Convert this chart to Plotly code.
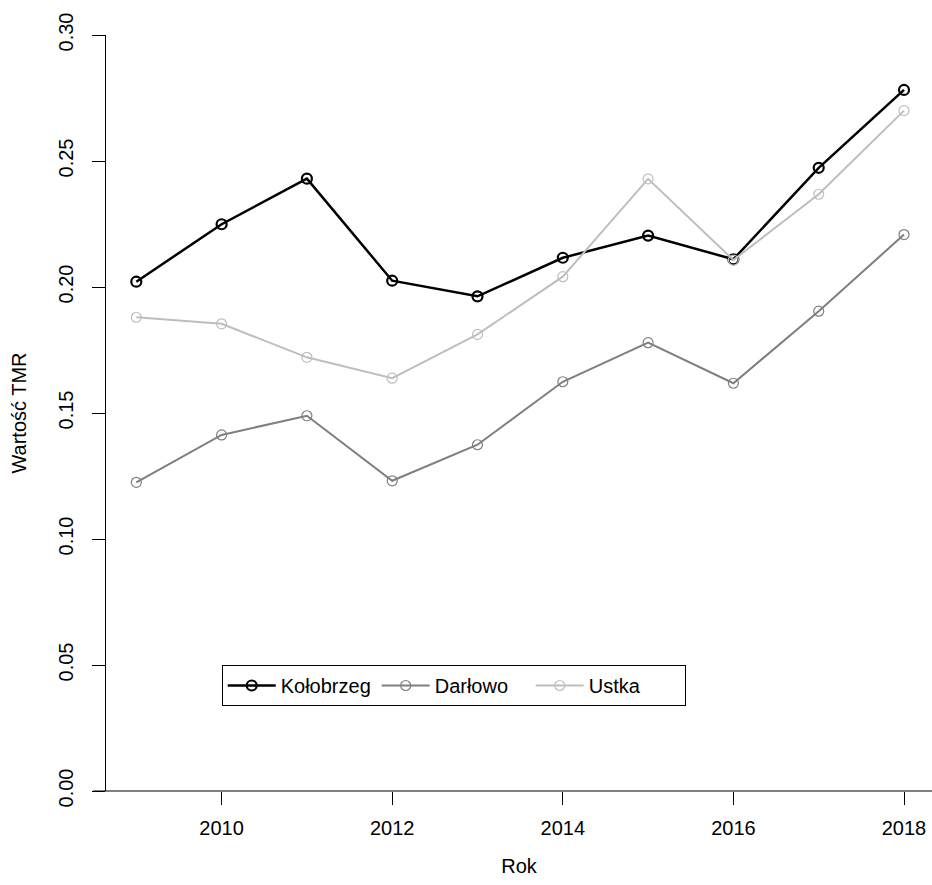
import plotly.graph_objects as go

years = [2009, 2010, 2011, 2012, 2013, 2014, 2015, 2016, 2017, 2018]
kolobrzeg = [0.2021, 0.2249, 0.2430, 0.2025, 0.1963, 0.2116, 0.2204, 0.2110, 0.2473, 0.2782]
darlowo = [0.1225, 0.1413, 0.1489, 0.1231, 0.1374, 0.1624, 0.1779, 0.1618, 0.1904, 0.2208]
ustka = [0.1880, 0.1854, 0.1721, 0.1638, 0.1812, 0.2041, 0.2429, 0.2107, 0.2368, 0.2700]

x_ticks = [2010, 2012, 2014, 2016, 2018]
y_ticks = [0.00, 0.05, 0.10, 0.15, 0.20, 0.25, 0.30]
y_ticklabels = ["0.00", "0.05", "0.10", "0.15", "0.20", "0.25", "0.30"]

FONT = "Liberation Sans, Arial, sans-serif"
FS = 20

series = [
    ("Kołobrzeg", kolobrzeg, "#000000", 2.5, 2.2),
    ("Darłowo", darlowo, "#7f7f7f", 2.0, 1.2),
    ("Ustka", ustka, "#bebebe", 2.0, 1.2),
]

fig = go.Figure()
for name, vals, col, lw, mlw in series:
    fig.add_trace(go.Scatter(
        x=years, y=vals, name=name, mode="lines+markers",
        line=dict(color=col, width=lw),
        marker=dict(symbol="circle-open", size=10, color=col, line=dict(color=col, width=mlw)),
    ))

W, H = 932, 885
L, R, T, B = 106, 0, 35, 94
plot_w = W - L - R
plot_h = H - T - B
px_per_year = 85.3
x0 = 2009 - (136.3 - L) / px_per_year
x1 = x0 + plot_w / px_per_year

fig.update_layout(
    width=W, height=H,
    margin=dict(l=L, r=R, t=T, b=B, pad=0),
    paper_bgcolor="white", plot_bgcolor="white",
    font=dict(family=FONT, size=FS, color="black"),
    showlegend=True,
    legend=dict(
        orientation="h", x=(221.7 - L) / plot_w, y=(791 - 665) / plot_h,
        xanchor="left", yanchor="top",
        bordercolor="black", borderwidth=1, bgcolor="white",
        font=dict(family=FONT, size=FS, color="black"),
        itemwidth=48, entrywidth=91, entrywidthmode="pixels",
    ),
    xaxis=dict(
        range=[x0, x1], tickvals=x_ticks, ticks="outside", ticklen=13, tickwidth=1,
        tickcolor="black", showgrid=False, zeroline=False, showline=False,
        ticklabelstandoff=6,
        tickfont=dict(family=FONT, size=FS, color="black"),
        title=dict(text="Rok", standoff=20, font=dict(family=FONT, size=FS, color="black")),
    ),
    yaxis=dict(
        range=[0, 0.30], tickvals=y_ticks, ticktext=y_ticklabels, ticks="outside",
        ticklen=13, tickwidth=1, tickcolor="black", showgrid=False, zeroline=False,
        showline=True, linecolor="black", linewidth=1, tickangle=-90,
        ticklabelstandoff=11,
        tickfont=dict(family=FONT, size=FS, color="black"),
        title=dict(text="Wartość TMR", standoff=23, font=dict(family=FONT, size=FS, color="black")),
    ),
)

# x-axis baseline extending slightly left of the y-axis (as in the original)
fig.add_shape(type="line", xref="paper", yref="paper", x0=-13 / plot_w, x1=1, y0=0, y1=0,
              line=dict(color="black", width=1))

fig.write_html("out.html")
